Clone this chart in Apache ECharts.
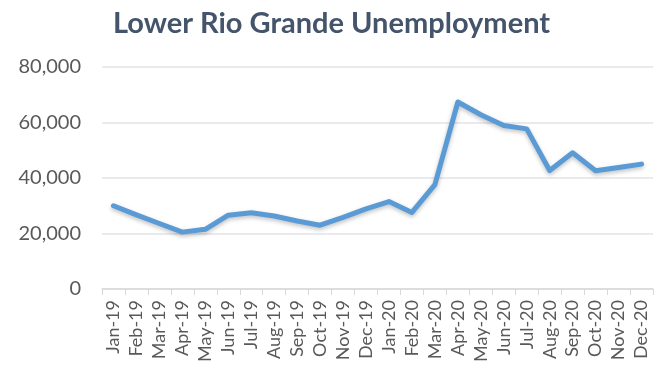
<!DOCTYPE html>
<html><head><meta charset="utf-8">
<script src="https://cdn.jsdelivr.net/npm/echarts@6/dist/echarts.min.js"></script>
<style>html,body{margin:0;padding:0;background:#fff}#c{width:663px;height:366px}</style>
</head><body><div id="c"></div>
<script>
const categories = ["Jan-19","Feb-19","Mar-19","Apr-19","May-19","Jun-19","Jul-19","Aug-19","Sep-19","Oct-19","Nov-19","Dec-19","Jan-20","Feb-20","Mar-20","Apr-20","May-20","Jun-20","Jul-20","Aug-20","Sep-20","Oct-20","Nov-20","Dec-20"];
const unemployment = [30000,26700,23600,20500,21500,26600,27500,26300,24500,23000,25800,28900,31500,27600,37600,67400,62800,58900,57700,42700,49100,42600,43800,45000];
const yTicks = {min:0, max:80000, interval:20000};
const chart = echarts.init(document.getElementById('c'));
chart.setOption({
  animation:false,
  title:{text:'Lower Rio Grande Unemployment',left:'center',top:4,
    textStyle:{fontFamily:'Lato',fontWeight:'bold',fontSize:29,color:'#44546A'}},
  grid:{left:102,right:10,top:67,bottom:77},
  xAxis:{type:'category',data:categories,boundaryGap:true,
    axisLine:{lineStyle:{color:'#D9D9D9',width:1.5}},
    axisTick:{show:true,alignWithLabel:false,length:6,lineStyle:{color:'#D9D9D9'}},
    axisLabel:{rotate:90,interval:0,fontFamily:'Lato',fontSize:18,color:'#595959',margin:11}},
  yAxis:{type:'value',min:yTicks.min,max:yTicks.max,interval:yTicks.interval,
    axisLine:{show:false},axisTick:{show:false},
    splitLine:{lineStyle:{color:'#E3E3E8',width:1.5}},
    axisLabel:{fontFamily:'Lato',fontSize:20,color:'#595959',margin:21,
      formatter:v=>v.toLocaleString('en-US')}},
  series:[{type:'line',data:unemployment,symbol:'none',
    lineStyle:{color:'#5B9BD5',width:5,cap:'round',join:'round',shadowColor:'rgba(0,0,0,0.25)',shadowBlur:4,shadowOffsetY:2}}]
});
</script></body></html>
